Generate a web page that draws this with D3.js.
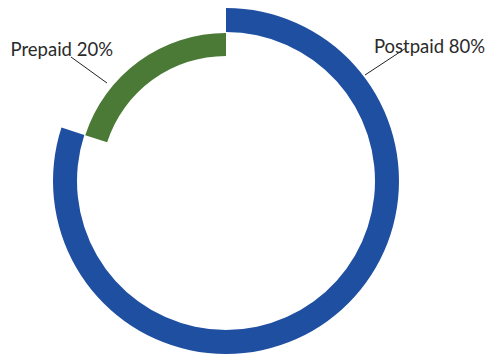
<!DOCTYPE html>
<html><head><meta charset="utf-8">
<script src="https://cdn.jsdelivr.net/npm/d3@7"></script>
<style>body{margin:0;background:#fff}svg{display:block}</style>
</head><body>
<svg id="c" width="485" height="358"></svg>
<script>
const categories = ["Postpaid", "Prepaid"];
const values = [80, 20];
const labels = ["Postpaid 80%", "Prepaid 20%"];
const colors = ["#1f4fa0", "#4a7a36"];

const svg = d3.select("#c");
const cx = 226, cy = 181;
const g = svg.append("g").attr("transform", `translate(${cx},${cy})`);

const pie = d3.pie().sort(null).value(d => d.v);
const arcsData = pie(categories.map((c, i) => ({c, v: values[i], i})));

const radii = [[149, 173], [125, 148]];
g.selectAll("path").data(arcsData).enter().append("path")
  .attr("d", d => d3.arc().innerRadius(radii[d.index][0]).outerRadius(radii[d.index][1])(d))
  .attr("fill", (d, i) => colors[i]);

// leader lines & labels
const labelSpecs = [
  {line: [[365, 75], [406, 48]], x: 374, y: 53, anchor: "start"},
  {line: [[107, 83], [71, 57]], x: 113, y: 56, anchor: "end"}
];
labelSpecs.forEach((s, i) => {
  svg.append("line")
    .attr("x1", s.line[0][0]).attr("y1", s.line[0][1])
    .attr("x2", s.line[1][0]).attr("y2", s.line[1][1])
    .attr("stroke", "#222").attr("stroke-width", 1);
  svg.append("text")
    .attr("x", s.x).attr("y", s.y)
    .attr("text-anchor", s.anchor)
    .attr("font-family", "Lato, 'Open Sans', sans-serif")
    .attr("font-size", 18.5)
    .attr("fill", "#2a2a2a")
    .text(labels[i]);
});
</script>
</body></html>
